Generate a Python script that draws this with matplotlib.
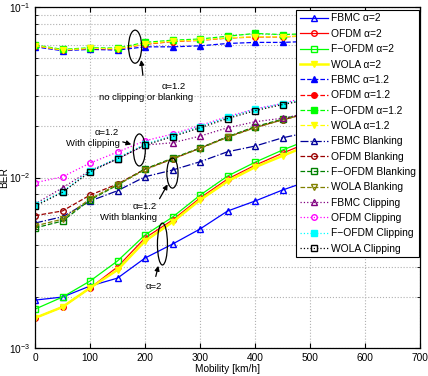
import numpy as np
import matplotlib
matplotlib.use("Agg")
import matplotlib.pyplot as plt
from matplotlib.patches import Ellipse
from matplotlib.ticker import MultipleLocator, LogLocator, NullFormatter

plt.rcParams['font.family'] = ['Liberation Sans', 'DejaVu Sans']

mobility = [0, 50, 100, 150, 200, 250, 300, 350, 400, 450, 500]

# alpha = 2 (solid)
fbmc_a2  = [1.91e-3, 1.99e-3, 2.31e-3, 2.57e-3, 3.37e-3, 4.07e-3, 4.99e-3, 6.36e-3, 7.28e-3, 8.45e-3, 9.6e-3]
ofdm_a2  = [1.50e-3, 1.74e-3, 2.25e-3, 2.99e-3, 4.42e-3, 5.63e-3, 7.58e-3, 9.8e-3, 1.18e-2, 1.39e-2, 1.62e-2]
fofdm_a2 = [1.69e-3, 1.99e-3, 2.47e-3, 3.24e-3, 4.60e-3, 5.86e-3, 7.88e-3, 1.02e-2, 1.23e-2, 1.45e-2, 1.68e-2]
wola_a2  = [1.50e-3, 1.74e-3, 2.25e-3, 2.87e-3, 4.24e-3, 5.48e-3, 7.38e-3, 9.5e-3, 1.15e-2, 1.34e-2, 1.56e-2]

# alpha = 1.2, no clipping or blanking (dashed)
fbmc_a12  = [0.0585, 0.0555, 0.0565, 0.0560, 0.0585, 0.0585, 0.0593, 0.0612, 0.0621, 0.0621, 0.0630]
ofdm_a12  = [0.0593, 0.0560, 0.0572, 0.0568, 0.0605, 0.0628, 0.0638, 0.0658, 0.0668, 0.0668, 0.0680]
fofdm_a12 = [0.0600, 0.0565, 0.0578, 0.0575, 0.0621, 0.0640, 0.0650, 0.0675, 0.0701, 0.0690, 0.0700]
wola_a12  = [0.0595, 0.0560, 0.0573, 0.0570, 0.0610, 0.0632, 0.0640, 0.0661, 0.0670, 0.0670, 0.0680]

# blanking
fbmc_blk  = [5.41e-3, 5.89e-3, 7.28e-3, 8.37e-3, 1.011e-2, 1.107e-2, 1.238e-2, 1.417e-2, 1.53e-2, 1.711e-2, 1.85e-2]
ofdm_blk  = [5.98e-3, 6.37e-3, 7.89e-3, 9.16e-3, 1.122e-2, 1.284e-2, 1.489e-2, 1.735e-2, 1.969e-2, 2.18e-2, 2.40e-2]
fofdm_blk = [5.06e-3, 5.56e-3, 7.38e-3, 9.04e-3, 1.122e-2, 1.30e-2, 1.489e-2, 1.735e-2, 1.99e-2, 2.20e-2, 2.43e-2]
wola_blk  = [5.20e-3, 5.70e-3, 7.50e-3, 9.10e-3, 1.11e-2, 1.29e-2, 1.48e-2, 1.72e-2, 1.96e-2, 2.18e-2, 2.40e-2]

# clipping
fbmc_clp  = [7.0e-3, 8.71e-3, 1.10e-2, 1.284e-2, 1.552e-2, 1.60e-2, 1.75e-2, 1.96e-2, 2.125e-2, 2.23e-2, 2.40e-2]
ofdm_clp  = [9.33e-3, 1.01e-2, 1.216e-2, 1.412e-2, 1.644e-2, 1.80e-2, 2.02e-2, 2.28e-2, 2.53e-2, 2.72e-2, 3.00e-2]
fofdm_clp = [6.90e-3, 8.26e-3, 1.092e-2, 1.306e-2, 1.572e-2, 1.76e-2, 1.99e-2, 2.26e-2, 2.51e-2, 2.72e-2, 2.90e-2]
wola_clp  = [6.80e-3, 8.20e-3, 1.08e-2, 1.29e-2, 1.55e-2, 1.74e-2, 1.96e-2, 2.22e-2, 2.47e-2, 2.68e-2, 2.88e-2]

fig = plt.figure(figsize=(4.28, 3.76), dpi=100)
ax = fig.add_axes([0.0818, 0.0745, 0.8995, 0.9065])

ms = 4
lw = 0.9
# alpha=2
ax.plot(mobility, fbmc_a2, '-', color='#0000ff', marker='^', mfc='none', ms=ms, lw=lw, label='FBMC α=2')
ax.plot(mobility, ofdm_a2, '-', color='#ff0000', marker='o', mfc='none', ms=ms, lw=lw, label='OFDM α=2')
ax.plot(mobility, fofdm_a2, '-', color='#00ff00', marker='s', mfc='none', ms=ms, lw=lw, label='F−OFDM α=2')
ax.plot(mobility, wola_a2, '-', color='#ffff00', marker='v', mfc='#ffff00', ms=ms, lw=1.8, label='WOLA α=2')
# alpha=1.2
ax.plot(mobility, fbmc_a12, '--', color='#0000ff', marker='^', mfc='#0000ff', ms=ms, lw=lw, label='FBMC α=1.2')
ax.plot(mobility, ofdm_a12, '--', color='#ff0000', marker='o', mfc='#ff0000', ms=ms, lw=lw, label='OFDM α=1.2')
ax.plot(mobility, fofdm_a12, '--', color='#00ff00', marker='s', mfc='#00ff00', ms=ms, lw=lw, label='F−OFDM α=1.2')
ax.plot(mobility, wola_a12, '--', color='#ffff00', marker='v', mfc='#ffff00', ms=ms, lw=lw, label='WOLA α=1.2')
# blanking
ax.plot(mobility, fbmc_blk, '-.', color='#000099', marker='^', mfc='none', ms=ms, lw=lw, label='FBMC Blanking')
ax.plot(mobility, ofdm_blk, '--', color='#990000', marker='o', mfc='none', ms=ms, lw=lw, label='OFDM Blanking')
ax.plot(mobility, fofdm_blk, '--', color='#008000', marker='s', mfc='none', ms=ms, lw=lw, label='F−OFDM Blanking')
ax.plot(mobility, wola_blk, '--', color='#808000', marker='v', mfc='none', ms=ms, lw=lw, label='WOLA Blanking')
# clipping
ax.plot(mobility, fbmc_clp, ':', color='#800080', marker='^', mfc='none', ms=ms, lw=lw, label='FBMC Clipping')
ax.plot(mobility, ofdm_clp, ':', color='#ff00ff', marker='o', mfc='none', ms=ms, lw=lw, label='OFDM Clipping')
ax.plot(mobility, fofdm_clp, ':', color='#00ffff', marker='s', mfc='#00ffff', ms=ms, lw=lw, label='F−OFDM Clipping')
ax.plot(mobility, wola_clp, ':', color='#000000', marker='s', mfc='none', ms=ms, lw=lw, label='WOLA Clipping')

ax.set_yscale('log')
ax.set_xlim(0, 700)
ax.set_ylim(1e-3, 1e-1)
ax.xaxis.set_major_locator(MultipleLocator(100))
ax.yaxis.set_minor_locator(LogLocator(base=10, subs=np.arange(2, 10)))
ax.yaxis.set_minor_formatter(NullFormatter())
ax.grid(True, which='major', linestyle=':', color='#b0b0b0', lw=0.8)
ax.grid(True, which='minor', axis='y', linestyle=':', color='#b0b0b0', lw=0.8)
ax.tick_params(labelsize=7.3, direction='in', which='both', top=True, right=True)
for s in ax.spines.values():
    s.set_linewidth(0.9)
ax.set_xlabel('Mobility [km/h]', fontsize=7.3, labelpad=1)
ax.set_ylabel('BER', fontsize=7.3)
ax.yaxis.set_label_coords(-0.068, 0.5)

# annotations (axes fraction)
tr = ax.transAxes
def ell(cx, cy, w, h):
    ax.add_patch(Ellipse((cx, cy), w, h, transform=tr, fill=False, ec='black', lw=0.9, zorder=5))
def arr(x0, y0, x1, y1):
    ax.annotate('', xy=(x1, y1), xytext=(x0, y0), xycoords=tr, textcoords=tr,
                arrowprops=dict(arrowstyle='-|>', color='black', lw=0.9, mutation_scale=7), zorder=5)

fs = 6.8
ell(0.260, 0.884, 0.034, 0.097)
arr(0.281, 0.792, 0.275, 0.853)
ax.text(0.361, 0.768, 'α=1.2', transform=tr, fontsize=fs, ha='center', va='center')
ax.text(0.288, 0.736, 'no clipping or blanking', transform=tr, fontsize=fs, ha='center', va='center')

ell(0.271, 0.581, 0.031, 0.094)
arr(0.221, 0.607, 0.257, 0.595)
ax.text(0.187, 0.633, 'α=1.2', transform=tr, fontsize=fs, ha='center', va='center')
ax.text(0.151, 0.601, 'With clipping', transform=tr, fontsize=fs, ha='center', va='center')

ell(0.357, 0.513, 0.029, 0.088)
arr(0.320, 0.431, 0.348, 0.487)
ax.text(0.286, 0.416, 'α=1.2', transform=tr, fontsize=fs, ha='center', va='center')
ax.text(0.242, 0.384, 'With blanking', transform=tr, fontsize=fs, ha='center', va='center')

ell(0.331, 0.305, 0.026, 0.123)
arr(0.312, 0.202, 0.322, 0.249)
ax.text(0.309, 0.179, 'α=2', transform=tr, fontsize=fs, ha='center', va='center')

leg = ax.legend(loc='upper right', bbox_to_anchor=(0.998, 0.992), borderaxespad=0,
                fontsize=7.4, handlelength=2.7, labelspacing=0.52, fancybox=False,
                edgecolor='black', framealpha=1, borderpad=0.35, handletextpad=0.3)
leg.get_frame().set_linewidth(0.8)
leg.set_zorder(10)

fig.savefig('out.png', dpi=100)
